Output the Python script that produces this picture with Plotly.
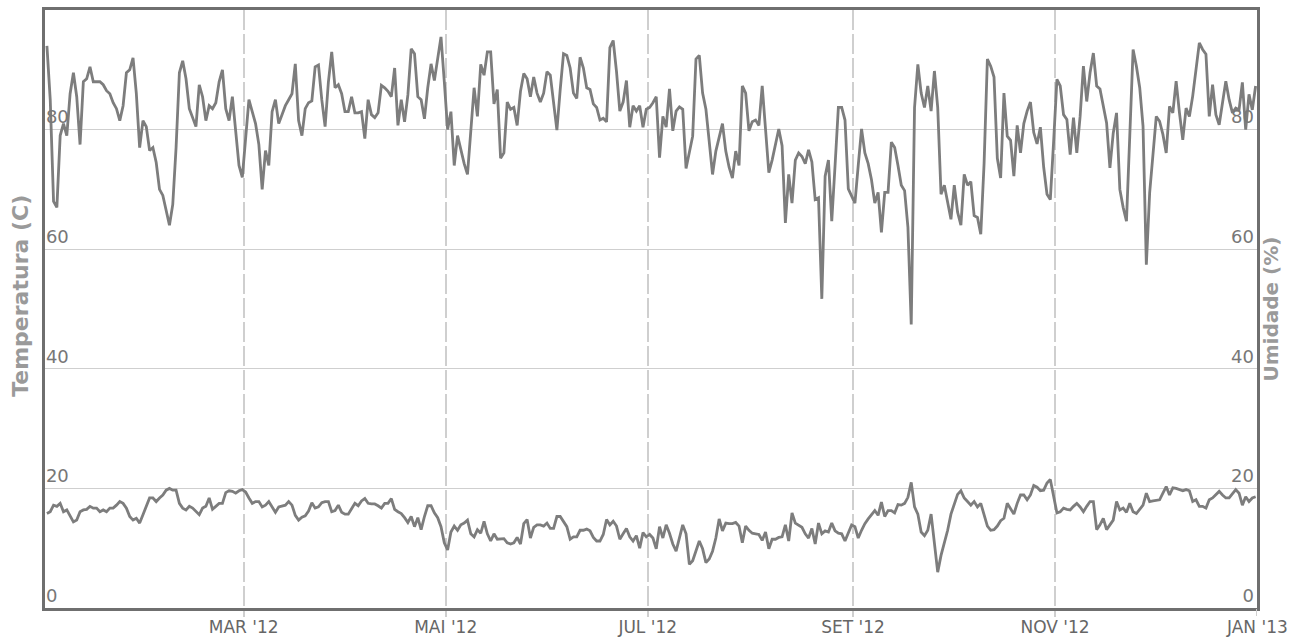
import pandas as pd
import plotly.graph_objects as go

# Daily mean temperature (C), one list per month of 2012
tmp_jan = [15.8, 16.1, 17.2, 17, 17.5, 16.1, 16.4, 15.3, 14.4, 14.7, 16.1, 16.4, 16.5, 17, 16.7, 16.7,
           16.1, 16.4, 16.1, 16.7, 16.7, 17.2, 17.8, 17.5, 16.7, 15.3, 14.7, 15, 14.2, 15.6, 17]
tmp_feb = [18.4, 18.4, 17.8, 18.4, 18.9, 19.7, 20, 19.7, 19.7, 17.5, 16.7, 16.4, 17, 16.7, 16.1,
           15.6, 16.7, 17, 18.4, 16.5, 17, 17.5, 17.5, 19.3, 19.6, 19.5, 19.2, 19.6, 19.8]
tmp_mar = [19.4, 18.4, 17.5, 17.8, 17.8, 16.9, 17.2, 17.8, 17, 16, 16.9, 17.1, 17.2, 17.8, 17.2, 15.5,
           14.7, 15.2, 15.4, 16.2, 17.6, 16.7, 16.9, 17.6, 17.8, 17.8, 16.1, 16.3, 17.2, 16, 15.7]
tmp_apr = [15.7, 16.5, 17.5, 17.1, 17.9, 18.3, 17.5, 17.4, 17.4, 17.1, 16.7, 17.5, 17.5, 18.3, 16.5,
           16.1, 15.8, 15.1, 14.3, 15.3, 13.6, 15.1, 13.1, 15.3, 17.1, 17.1, 15.9, 15.1, 13.6, 10.9]
tmp_may = [9.7, 12.7, 13.7, 13, 13.9, 14.2, 14.7, 12.4, 11.9, 13.1, 12.5, 14.5, 12.4, 11.2, 12.4, 11.5,
           11.5, 11.6, 10.9, 10.7, 10.9, 11.8, 10.7, 14.1, 14.8, 11.7, 13.5, 13.9, 13.9, 13.7, 14.2]
tmp_jun = [13.3, 13.3, 15.3, 15.3, 14.5, 13.6, 11.5, 11.9, 11.9, 13, 13, 13.2, 12.9, 11.8, 11.2,
           11.2, 12.3, 14.8, 13.9, 14.5, 13.7, 11.5, 12.4, 13.3, 11.9, 11.2, 12.1, 10, 12.6, 11.9]
tmp_jul = [12.3, 11.7, 9.9, 13.6, 11.7, 13.9, 12.5, 10.7, 9.5, 11.9, 13.9, 12.4, 7.3, 7.9, 9.5, 11.2,
           9.9, 7.6, 8.2, 9.5, 11.7, 14.9, 12.9, 14.2, 14.1, 14.1, 14.3, 13.7, 10.9, 13.7, 13]
tmp_aug = [12.5, 12.4, 12.3, 11.3, 12.7, 9.9, 11.5, 11.5, 11.8, 11.9, 13.9, 11.2, 15.9, 14.2, 13.9,
           13.5, 12.4, 11.7, 13.3, 10.7, 14.2, 12.4, 12.9, 12.7, 14.2, 12.9, 12.5, 12.4, 11.2, 12.7, 13.9]
tmp_sep = [13.6, 11.7, 13, 14.1, 14.9, 15.7, 16.3, 15.5, 17.7, 15.3, 16.3, 16.3, 15.9, 17.3, 17.2,
           17.5, 18.5, 21, 16.9, 15.7, 12.7, 12.1, 13, 15.7, 10.3, 6, 8.8, 10.9, 13, 15.7]
tmp_oct = [17.5, 19, 19.6, 18.4, 17.8, 17.2, 17.8, 16.9, 17.5, 15.7, 13.7, 13, 13.1, 13.7, 14.6, 15,
           17.5, 16.6, 15.7, 17.5, 18.9, 18.9, 18.1, 18.9, 20.5, 20.2, 19.6, 19.7, 20.9, 21.5, 18.4]
tmp_nov = [15.9, 16.1, 16.7, 16.5, 16.4, 17, 17.5, 16.9, 16.1, 17, 17.8, 17.8, 13.1, 13.9, 15,
           13.1, 14, 14.7, 17.8, 16.4, 16.7, 16, 17.5, 16.1, 15.8, 16.5, 17.2, 19.2, 17.8, 17.9]
tmp_dec = [18, 18.1, 19.2, 20.3, 18.9, 20.1, 20, 19.8, 19.6, 19.8, 19.6, 17.8, 18.1, 17, 17, 16.7,
           18.1, 18.4, 18.9, 19.5, 18.9, 18.4, 18.4, 19.2, 19.8, 19.2, 17.2, 18.6, 17.8, 18.4, 18.6]

# Daily mean relative humidity (%), one list per month of 2012
hum_jan = [94, 85, 68, 67, 79, 81, 79, 86, 89.5, 85.5, 77.5, 88, 88.5, 90.5, 88, 88, 88, 87.5, 86.5,
           86, 84.5, 83.5, 81.5, 84, 89.5, 90, 92, 86, 77, 81.5, 80.5]
hum_feb = [76.5, 77, 74.5, 70, 69, 66.5, 64, 67.5, 77, 89.5, 91.5, 88.5, 83.5, 82, 80.5, 87.5, 85.5,
           81.5, 84, 83.5, 84.5, 88, 90, 83.5, 81.5, 85.5, 80, 74, 72]
hum_mar = [79, 85, 83, 81, 77.5, 70, 76.5, 74, 83, 85, 81, 82.5, 84, 85, 86, 91, 81.5, 79, 83.5, 84.5,
           84.8, 90.5, 90.8, 85, 80.5, 88, 93, 87, 87.5, 86, 83]
hum_apr = [83, 85.5, 82.8, 82.8, 83, 78.5, 85, 82.5, 82, 82.8, 87.4, 87, 86.4, 85.5, 90.3, 80.7, 85,
           81.3, 85.8, 93.5, 92.7, 85.5, 85, 81.8, 87, 91, 88.2, 91.5, 95.5, 88]
hum_may = [80, 83, 74, 79, 76.4, 74.3, 72.5, 79.5, 87, 82.2, 90.9, 89.1, 93, 93, 84.3, 86.7, 75.2,
           76.1, 84.6, 83.4, 83.7, 80.7, 86.4, 89.4, 88.5, 85.5, 88.8, 86.1, 84.6, 86.1, 89.7]
hum_jun = [89.1, 84.3, 79.9, 86.7, 92.7, 92.4, 90.3, 86.1, 85.2, 92.1, 90.3, 87, 86.7, 84.3, 83.7,
           81.6, 81.9, 81.3, 93.7, 94.9, 89.7, 83.1, 84.6, 88.2, 80.4, 84, 83.1, 84, 80.4, 83.4]
hum_jul = [83.7, 84.5, 85.5, 75.3, 82.2, 80.4, 86.8, 79.8, 83.1, 83.8, 83.4, 73.5, 76.1, 78.9, 91.8,
           92.4, 86.1, 83.4, 78, 72.5, 76.4, 78.9, 81, 76.4, 73.7, 71.9, 76.4, 74, 87.3, 86.1, 79.8]
hum_aug = [81.3, 81.6, 80.7, 87.3, 80.1, 72.8, 74.9, 77.3, 80.1, 77.3, 64.4, 72.5, 67.7, 74.9, 76.1,
           75.5, 74.3, 76.6, 74.6, 68.3, 68.6, 51.7, 72.2, 74.9, 64.7, 74, 83.7, 83.7, 81.6, 70.1, 69]
hum_sep = [67.7, 74, 80.1, 76.1, 74.3, 71.6, 67.7, 69.5, 62.8, 69.5, 69.5, 77.9, 77, 74, 70.7, 69.8,
           63.7, 47.4, 83.7, 90.9, 86.1, 83.7, 87.3, 83.1, 89.8, 83.7, 69.2, 70.7, 67.7, 65]
hum_oct = [70.7, 66.2, 64, 72.5, 70.7, 71.3, 65.6, 65.3, 62.5, 74.3, 91.8, 90.6, 88.8, 75.2, 71.9,
           86.1, 78.9, 78.2, 72.2, 80.7, 76.1, 81, 83.1, 84.6, 79.5, 77.6, 80.4, 73.7, 69.2, 68.3, 78]
hum_nov = [88.4, 87.3, 82.5, 81.7, 75.8, 82, 76.1, 82.2, 90.6, 84.7, 89.5, 92.8, 87.3, 86.8, 83.9,
           81.1, 73.6, 79.4, 82.8, 70, 67, 64.7, 79, 93.4, 90.6, 87, 80.6, 57.4, 69.4, 76]
hum_dec = [82.2, 81.4, 79.2, 76.1, 83.9, 82.8, 88.1, 82.8, 78.3, 83.6, 82.2, 85.6, 90, 94.5, 93.4,
           92.6, 82.2, 87.5, 82.5, 80.8, 84.5, 88.1, 85, 82.8, 83.6, 83.3, 87.9, 80, 85.9, 83.3, 87.3]

# Month tick positions and labels (Portuguese abbreviations)
tick_dates = ["2012-03-01", "2012-05-01", "2012-07-01", "2012-09-01", "2012-11-01", "2013-01-01"]
tick_labels = ["MAR '12", "MAI '12", "JUL '12", "SET '12", "NOV '12", "JAN '13"]
value_ticks = [0, 20, 40, 60, 80]

temperature = (tmp_jan + tmp_feb + tmp_mar + tmp_apr + tmp_may + tmp_jun +
               tmp_jul + tmp_aug + tmp_sep + tmp_oct + tmp_nov + tmp_dec)
humidity = (hum_jan + hum_feb + hum_mar + hum_apr + hum_may + hum_jun +
            hum_jul + hum_aug + hum_sep + hum_oct + hum_nov + hum_dec)
days = pd.date_range("2012-01-01 14:00", periods=len(temperature), freq="D")

LINE = "#7d7d7d"
FRAME = "#6f6f6f"
GRID = "#cfcfcf"
FONT = "DejaVu Sans"
TICK_FONT = dict(size=17, color="#666666", family=FONT)
TITLE_COLOR = "#9a9a9a"

fig = go.Figure()
fig.add_trace(go.Scatter(x=days, y=temperature, mode="lines", name="Temperatura",
                         line=dict(color=LINE, width=2.8), yaxis="y"))
fig.add_trace(go.Scatter(x=days, y=humidity, mode="lines", name="Umidade",
                         line=dict(color=LINE, width=2.8), yaxis="y2"))

fig.update_layout(
    width=1292, height=639,
    margin=dict(l=45, r=35, t=10, b=31),
    paper_bgcolor="white", plot_bgcolor="white",
    showlegend=False,
    font=dict(family=FONT, color="#777777"),
    xaxis=dict(
        type="date", range=["2012-01-01", "2013-01-01"],
        tickmode="array", tickvals=tick_dates[:-1], ticktext=tick_labels[:-1],
        tickfont=TICK_FONT, ticklabelstandoff=-4,
        showgrid=True, gridcolor=GRID, gridwidth=2, griddash="20px,4px",
        ticks="outside", ticklen=6, tickwidth=2, tickcolor=GRID,
        showline=True, mirror=True, linecolor=FRAME, linewidth=3,
        zeroline=False, automargin=False,
    ),
    yaxis=dict(
        range=[0, 100], tickmode="array", tickvals=value_ticks,
        ticklabelposition="inside top", tickfont=dict(size=18, color="#777777"),
        showgrid=True, gridcolor=GRID, gridwidth=1,
        showline=True, mirror=True, linecolor=FRAME, linewidth=3,
        zeroline=False, ticks="", automargin=False,
    ),
    yaxis2=dict(
        range=[0, 100], tickmode="array", tickvals=value_ticks,
        overlaying="y", side="right",
        ticklabelposition="inside top", tickfont=dict(size=18, color="#777777"),
        showgrid=False, showline=False, zeroline=False, ticks="", automargin=False,
        title=dict(text="Umidade (%)", standoff=10,
                   font=dict(size=20, color=TITLE_COLOR, family=FONT, weight="bold")),
    ),
)

# Last month label sits on the right frame edge, so it is placed as an annotation
fig.add_annotation(x=tick_dates[-1], xref="x", y=0, yref="paper",
                   text=tick_labels[-1], showarrow=False, font=TICK_FONT,
                   xanchor="center", yanchor="middle", yshift=-19)
# Its small tick mark below the frame
fig.add_shape(type="line", xref="x", yref="paper", ysizemode="pixel", yanchor=0,
              x0=tick_dates[-1], x1=tick_dates[-1], y0=-1, y1=-8,
              line=dict(color=GRID, width=2))

# Left axis title
fig.add_annotation(x=0, xref="paper", xshift=-24, y=0.522, yref="paper",
                   text="Temperatura (C)", textangle=-90, showarrow=False,
                   font=dict(size=22, color=TITLE_COLOR, family=FONT, weight="bold"),
                   xanchor="center", yanchor="middle")

fig.write_html("out.html")
